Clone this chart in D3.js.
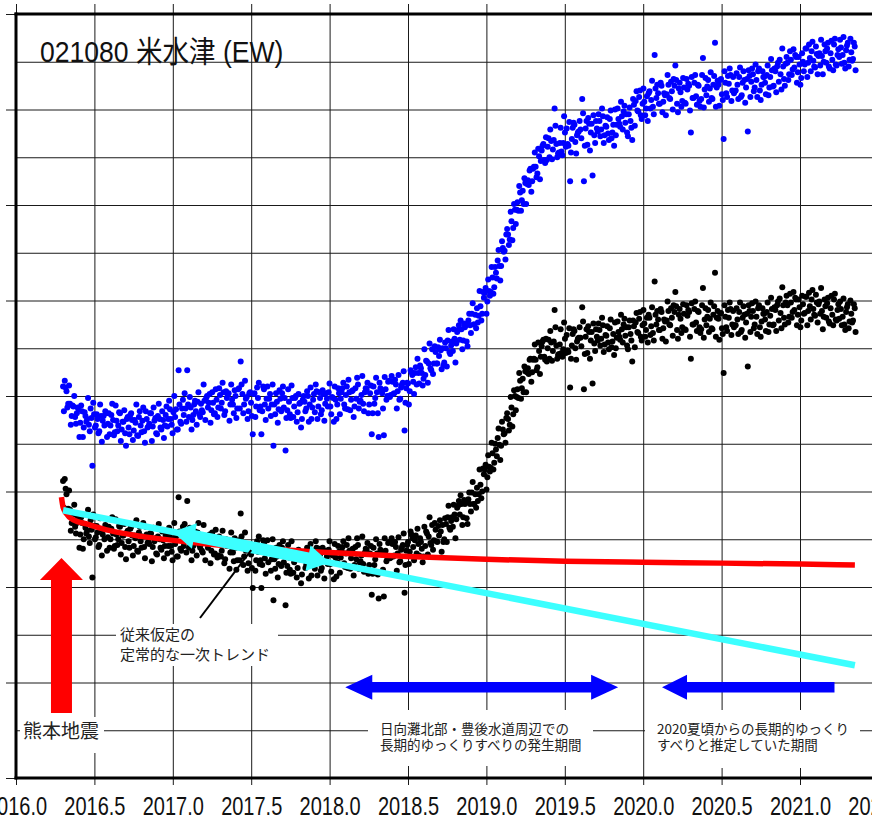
<!DOCTYPE html>
<html><head><meta charset="utf-8">
<script src="https://cdn.jsdelivr.net/npm/d3@7"></script>
<style>body{margin:0;background:#fff}svg{display:block}</style>
</head><body><svg id="c" width="872" height="822"></svg>
<script>
// ---- data ----
const title = "021080 米水津 (EW)";
const startYear = 2016.30;      // first sample of series A
const startYearB = 2016.3055;   // first sample of series B (interleaved)
const stepYears = 0.011;        // sampling interval
// observed EW displacement (mm), black dots
const ewObserved = [
-8.9,-8.7,-10.3,-11.8,-11.9,-13.3,-12.4,-13.7,-13.3,-12.9,
-14.5,-13.3,-15.0,-13.8,-14.1,-14.7,-13.0,-19.0,-13.6,-14.8,
-14.3,-15.6,-14.0,-14.5,-15.0,-13.7,-14.8,-15.9,-13.9,-14.4,
-15.7,-14.5,-15.0,-13.7,-15.4,-14.6,-15.8,-14.3,-15.2,-13.9,
-14.6,-15.7,-14.9,-16.2,-14.3,-15.2,-14.7,-15.8,-13.7,-15.4,
-15.5,-14.4,-15.8,-15.2,-16.5,-14.7,-15.0,-16.1,-15.1,-15.7,
-14.4,-15.7,-14.7,-16.3,-15.0,-15.5,-16.8,-10.6,-16.0,-14.6,
-15.7,-15.0,-11.0,-15.9,-14.9,-16.2,-14.6,-15.3,-14.3,-15.6,
-15.5,-16.4,-15.2,-14.9,-15.9,-14.5,-16.2,-15.4,-16.5,-15.1,
-16.7,-15.4,-16.2,-15.1,-17.1,-15.7,-15.2,-16.4,-15.9,-17.3,
-15.9,-17.2,-15.1,-12.3,-15.7,-16.8,-16.2,-18.3,-15.6,-16.6,
-20.1,-15.8,-17.2,-16.3,-17.6,-20.1,-15.1,-17.0,-16.4,-17.4,
-16.0,-17.1,-21.4,-18.1,-16.8,-17.6,-16.5,-15.9,-17.4,-21.9,
-17.8,-16.9,-18.6,-16.5,-17.4,-16.3,-18.0,-17.1,-19.6,-16.7,
-17.0,-17.7,-16.4,-17.3,-18.8,-16.8,-18.1,-15.9,-17.5,-16.6,
-18.0,-16.3,-17.3,-16.8,-16.1,-17.6,-16.6,-19.2,-16.9,-17.4,
-16.3,-16.9,-15.8,-17.5,-16.5,-18.0,-16.2,-17.0,-16.0,-17.7,
-17.1,-15.6,-17.4,-16.7,-17.6,-16.4,-16.1,-18.6,-16.5,-20.8,
-15.9,-17.1,-16.5,-21.2,-16.1,-16.6,-21.0,-16.2,-16.9,-15.3,
-16.9,-15.5,-16.7,-15.8,-16.5,-17.4,-16.1,-15.6,-20.6,-16.2,
-15.3,-16.3,-14.5,-15.8,-15.1,-16.5,-15.5,-14.9,-16.0,-16.8,
-15.7,-14.4,-14.7,-15.4,-13.5,-15.1,-14.0,-15.3,-14.6,-14.2,
-13.5,-15.0,-13.4,-12.7,-13.8,-13.1,-13.7,-12.4,-12.9,-11.5,
-12.4,-11.3,-12.7,-11.3,-12.8,-10.8,-11.3,-10.1,-11.3,-10.3,
-9.6,-10.3,-9.3,-10.0,-8.2,-7.2,-8.5,-7.4,-7.5,-6.0,
-7.0,-5.6,-4.4,-5.1,-5.2,-3.5,-3.9,-2.3,-2.4,-3.0,
-1.2,-1.9,0.0,-0.1,-0.2,1.6,0.8,0.4,2.6,2.5,
2.3,3.9,2.5,3.9,3.8,3.0,4.7,4.1,5.7,4.1,
6.0,5.0,3.9,5.6,4.7,9.0,5.3,4.3,5.4,4.5,
4.9,6.0,6.4,4.6,0.9,5.3,7.0,5.0,5.7,6.1,
6.1,9.3,0.7,6.2,4.5,6.7,5.8,1.3,5.5,7.0,
5.8,6.9,6.0,7.4,5.4,6.3,5.6,7.1,5.1,6.5,
7.7,6.1,6.7,5.9,7.0,7.5,6.3,5.3,7.2,6.5,
3.6,7.3,7.7,6.7,8.1,6.2,7.4,7.6,6.9,5.6,
8.2,7.3,6.6,12.0,7.5,8.0,6.9,8.8,7.1,7.8,
7.9,8.9,7.4,8.2,9.5,10.9,6.9,8.5,8.1,7.2,
8.6,6.9,8.4,8.8,3.9,7.5,9.1,7.7,8.9,7.2,
7.0,11.3,8.0,7.4,9.0,8.1,7.1,8.5,12.9,8.2,
8.1,8.6,7.1,2.4,8.3,6.8,8.2,9.1,7.5,7.2,
7.4,8.0,8.8,6.7,8.2,8.5,7.7,3.1,8.9,8.3,
8.9,7.5,8.3,9.2,7.2,7.8,8.6,8.0,8.8,6.7,
8.4,9.1,7.5,9.0,9.5,7.9,8.7,11.4,8.2,9.8,
9.5,8.3,9.8,8.8,9.0,10.1,8.5,9.3,7.9,9.6,
8.7,10.4,8.9,9.4,10.1,9.1,8.4,9.8,9.6,8.6,
8.9,8.3,9.4,9.7,7.8,9.2,8.5,10.1,8.0,9.0,
8.1,9.1,8.3,7.5,8.8,9.6,7.8,8.6,7.9,9.2];
const ewObservedB = [
-11.7,-9.7,-12.1,-9.9,-14.1,-12.3,-11.4,-14.4,-12.7,-15.9,
-12.7,-16.0,-13.4,-14.4,-11.9,-15.4,-14.0,-12.4,-15.0,-13.6,
-15.8,-12.8,-16.7,-14.0,-13.5,-16.2,-13.7,-15.0,-12.7,-16.0,
-12.9,-15.6,-13.6,-16.6,-14.6,-13.4,-17.1,-14.1,-15.9,-13.7,
-16.7,-14.6,-13.0,-16.3,-13.7,-15.9,-13.3,-17.0,-14.5,-15.3,
-14.4,-17.3,-13.8,-14.9,-16.6,-13.4,-15.9,-14.2,-17.0,-14.6,
-16.5,-13.8,-15.7,-17.2,-13.3,-14.7,-16.8,-14.2,-16.2,-13.7,
-13.4,-16.4,-14.6,-13.8,-17.2,-15.7,-14.2,-16.7,-13.3,-15.9,
-16.2,-13.5,-17.2,-14.7,-15.4,-17.5,-14.3,-16.6,-14.0,-16.9,
-14.7,-16.8,-14.1,-17.5,-15.0,-15.4,-18.1,-14.3,-16.4,-14.9,
-18.2,-15.2,-17.2,-14.7,-17.7,-14.3,-16.0,-17.5,-15.5,-18.0,
-15.9,-18.3,-15.2,-14.7,-17.2,-17.7,-15.4,-18.6,-15.1,-16.4,
-18.3,-15.0,-17.1,-15.9,-19.0,-15.6,-17.8,-15.2,-16.4,-18.5,
-15.6,-18.2,-15.2,-18.5,-16.5,-19.0,-16.1,-17.0,-18.7,-16.3,
-18.0,-15.9,-19.1,-15.5,-17.6,-16.2,-15.2,-18.8,-16.0,-18.3,
-15.9,-19.1,-16.2,-17.6,-15.2,-18.4,-16.7,-15.5,-18.9,-15.7,
-18.5,-16.2,-15.2,-17.9,-15.6,-14.9,-18.1,-16.1,-18.8,-15.8,
-14.9,-18.1,-17.3,-14.7,-18.4,-16.0,-15.4,-17.7,-15.7,-18.6,
-17.7,-15.0,-18.7,-15.5,-16.3,-18.2,-14.9,-17.3,-15.4,-17.0,
-14.9,-16.8,-15.3,-18.3,-14.8,-17.3,-15.8,-14.4,-17.7,-15.6,
-17.6,-14.2,-14.9,-17.2,-14.6,-13.9,-16.7,-15.3,-17.4,-13.7,
-14.2,-16.6,-12.7,-15.6,-16.1,-13.3,-15.2,-13.6,-13.0,-16.3,
-15.3,-12.8,-15.3,-11.5,-14.0,-12.7,-11.4,-14.9,-11.7,-11.0,
-10.4,-13.5,-10.9,-11.1,-13.4,-10.1,-12.1,-9.0,-11.3,-11.7,
-11.0,-7.7,-10.7,-7.6,-7.7,-9.8,-6.2,-7.9,-4.9,-7.7,
-5.0,-6.3,-3.4,-6.7,-2.7,-4.0,-4.9,-1.8,-3.6,-0.1,
-3.2,0.6,-1.5,0.7,2.4,-0.3,1.8,3.1,0.4,2.9,
3.8,1.5,3.8,5.4,2.7,5.6,2.3,5.2,5.9,3.8,
3.6,5.9,6.8,3.7,5.7,7.2,3.9,4.4,7.0,4.1,
7.7,4.5,4.8,7.1,3.9,6.5,6.8,3.8,6.0,7.2,
5.2,7.8,4.4,7.0,7.3,3.9,6.7,7.6,4.7,6.2,
7.6,5.3,8.2,4.6,6.4,7.3,4.9,8.0,5.7,4.3,
5.0,7.8,6.2,8.5,5.6,8.1,7.2,4.9,7.9,5.8,
7.9,5.1,8.7,6.6,8.8,5.8,9.0,6.2,8.2,8.5,
6.4,9.3,5.8,8.5,8.9,6.9,9.1,6.0,8.0,5.7,
9.9,7.5,9.2,6.3,8.8,9.4,6.0,9.1,6.6,9.6,
7.0,9.5,9.0,6.2,9.7,7.5,9.9,6.8,8.8,6.6,
9.5,6.1,9.2,8.3,6.7,9.8,7.0,9.4,6.2,8.9,
5.9,8.7,6.5,9.5,7.2,9.0,9.8,6.4,8.9,7.4,
9.2,6.5,9.8,6.9,9.4,6.1,8.6,9.5,6.7,9.7,
7.1,9.9,6.5,9.5,6.2,9.2,8.6,6.8,9.8,7.5,
10.3,7.4,9.3,6.8,9.9,10.2,7.1,9.5,7.5,10.5,
7.7,10.7,8.2,10.9,10.3,7.4,10.1,7.2,10.5,8.6,
10.4,7.4,10.8,8.0,11.1,8.5,10.6,7.7,9.9,11.3,
7.0,10.1,8.2,10.3,7.6,10.5,7.4,10.7,7.9,9.6,
9.9,7.4,10.2,6.9,9.3,7.1,10.0,7.7,9.6,6.7];
// corrected EW displacement (mm), blue dots
const ewCorrected = [
1.0,1.6,0.5,-0.8,-0.8,-2.1,-1.1,-2.2,-1.8,-1.4,
-2.8,-1.6,-3.3,-2.1,-2.4,-3.0,-1.3,-7.3,-1.9,-3.1,
-2.4,-3.7,-2.1,-2.6,-3.1,-1.8,-2.9,-4.0,-2.0,-2.5,
-3.8,-2.6,-3.1,-1.8,-3.5,-2.7,-3.9,-2.4,-3.3,-2.0,
-2.5,-3.6,-2.8,-4.1,-2.2,-3.1,-2.6,-3.7,-1.6,-3.3,
-2.9,-1.8,-3.2,-2.6,-3.9,-2.1,-2.4,-3.5,-2.5,-3.1,
-1.1,-2.4,-1.4,-3.0,-1.7,-2.2,-3.5,2.7,-2.7,-1.3,
-2.0,-1.3,2.7,-2.2,-1.2,-2.5,-0.9,-1.6,-0.6,-1.9,
-0.8,-1.7,-0.5,-0.2,-1.2,0.2,-1.5,-0.7,-1.8,-0.4,
-1.2,0.1,-0.7,0.4,-1.6,-0.2,0.3,-0.9,-0.4,-1.8,
0.0,-1.3,0.8,3.6,0.2,-0.9,-0.3,-2.4,0.3,-0.7,
-4.0,0.3,-1.1,-0.2,-1.5,-4.0,1.0,-0.9,-0.3,-1.3,
0.2,-0.9,-5.2,-1.9,-0.6,-1.4,-0.3,0.3,-1.2,-5.7,
-1.5,-0.6,-2.3,-0.2,-1.1,0.0,-1.7,-0.8,-3.3,-0.4,
-0.6,-1.3,0.0,-0.9,-2.4,-0.4,-1.7,0.5,-1.1,-0.2,
-1.5,0.2,-0.8,-0.3,0.4,-1.1,-0.1,-2.7,-0.4,-0.9,
0.3,-0.3,0.8,-0.9,0.1,-1.4,0.4,-0.4,0.6,-1.1,
-0.3,1.2,-0.6,0.1,-0.8,0.4,0.7,-1.8,0.3,-4.0,
1.0,-0.2,0.4,-4.3,0.8,0.3,-4.1,0.7,0.0,1.6,
0.1,1.5,0.3,1.2,0.5,-0.4,0.9,1.4,-3.6,0.8,
1.3,0.5,2.5,1.5,2.4,1.2,2.4,3.2,2.4,1.8,
2.2,3.6,3.4,2.9,4.9,3.4,4.6,3.4,4.2,4.8,
5.0,3.5,5.0,5.8,4.6,5.3,4.7,6.0,5.5,6.9,
5.9,7.0,5.8,7.2,5.7,7.9,7.4,8.6,7.5,8.5,
9.2,8.4,9.4,8.6,10.3,11.3,9.9,11.0,10.9,12.4,
11.4,12.9,14.2,13.6,13.6,15.5,15.2,16.9,16.9,16.4,
18.3,17.6,19.5,19.5,19.4,21.3,20.5,20.1,22.3,22.2,
22.1,23.8,22.5,24.0,24.0,23.3,25.1,24.6,26.2,24.7,
27.1,26.1,25.0,26.7,25.8,30.1,26.4,25.4,26.5,25.6,
26.5,27.6,28.0,26.2,22.5,26.9,28.6,26.6,27.3,27.7,
27.9,31.1,22.5,28.0,26.3,28.5,27.6,23.1,27.3,28.8,
27.7,28.8,27.9,29.3,27.3,28.2,27.5,29.0,27.0,28.4,
30.0,28.4,29.0,28.2,29.3,29.8,28.6,27.6,29.5,28.8,
26.8,30.5,30.9,29.9,31.3,29.4,30.6,30.8,30.1,28.8,
31.9,31.0,30.3,35.7,31.2,31.7,30.6,32.5,30.8,31.5,
31.6,32.6,31.1,31.9,33.2,34.6,30.6,32.2,31.8,30.9,
32.3,30.6,32.1,32.5,27.6,31.2,32.8,31.4,32.6,30.9,
31.1,35.4,32.1,31.5,33.1,32.2,31.2,32.6,37.0,32.3,
32.6,33.1,31.6,26.9,32.8,31.3,32.7,33.6,32.0,31.7,
32.0,32.6,33.4,31.3,32.8,33.1,32.3,27.7,33.5,32.9,
33.7,32.3,33.1,34.0,32.0,32.6,33.4,32.8,33.6,31.5,
33.4,34.1,32.5,34.0,34.5,32.9,33.7,36.4,33.2,34.8,
34.9,33.7,35.2,34.2,34.4,35.5,33.9,34.7,33.3,35.0,
34.7,36.4,34.9,35.4,36.1,35.1,34.4,35.8,35.6,34.6,
35.6,35.0,36.1,36.4,34.5,35.9,35.2,36.8,34.7,35.7,
35.5,36.5,35.7,34.9,36.2,37.0,35.2,36.0,35.3,36.6];
const ewCorrectedB = [
-1.6,0.9,-1.2,1.1,-3.0,-1.0,0.0,-2.9,-1.2,-4.3,
-1.0,-4.3,-1.7,-2.7,-0.2,-3.7,-2.3,-0.7,-3.3,-1.9,
-3.9,-0.9,-4.8,-2.1,-1.6,-4.3,-1.8,-3.1,-0.8,-4.1,
-1.0,-3.7,-1.7,-4.7,-2.7,-1.5,-5.2,-2.2,-4.0,-1.8,
-4.6,-2.5,-0.9,-4.2,-1.6,-3.8,-1.2,-4.9,-2.4,-3.2,
-1.8,-4.7,-1.2,-2.3,-4.0,-0.8,-3.3,-1.6,-4.4,-2.0,
-3.2,-0.5,-2.4,-3.9,0.0,-1.4,-3.5,-0.9,-2.9,-0.4,
0.3,-2.7,-0.9,-0.1,-3.5,-2.0,-0.5,-3.0,0.4,-2.2,
-1.5,1.2,-2.5,0.0,-0.7,-2.8,0.4,-1.9,0.7,-2.2,
0.8,-1.3,1.4,-2.0,0.5,0.1,-2.6,1.2,-0.9,0.6,
-2.3,0.7,-1.3,1.2,-1.8,1.6,-0.1,-1.6,0.4,-2.1,
0.2,-2.2,0.9,1.4,-1.1,-1.6,0.7,-2.5,1.0,-0.3,
-2.1,1.2,-0.9,0.3,-2.8,0.6,-1.6,1.0,-0.2,-2.3,
0.7,-1.9,1.1,-2.2,-0.2,-2.7,0.2,-0.7,-2.4,0.0,
-1.6,0.5,-2.7,0.9,-1.2,0.2,1.2,-2.4,0.4,-1.9,
0.6,-2.6,0.3,-1.1,1.3,-1.9,-0.2,1.0,-2.4,0.8,
-1.9,0.4,1.4,-1.3,1.0,1.7,-1.5,0.5,-2.2,0.8,
1.9,-1.3,-0.5,2.1,-1.6,0.8,1.4,-0.9,1.1,-1.8,
-0.8,1.9,-1.8,1.4,0.6,-1.3,2.0,-0.4,1.5,-0.1,
2.1,0.2,1.7,-1.3,2.2,-0.3,1.2,2.6,-0.7,1.4,
-0.9,2.7,2.2,0.2,3.0,3.9,1.3,2.9,1.1,4.9,
3.7,1.4,5.5,2.7,2.3,5.2,3.4,5.1,5.9,2.8,
3.2,5.6,3.1,6.9,4.4,5.7,7.0,3.5,6.7,7.4,
7.9,4.9,7.6,7.4,5.2,8.6,6.6,9.7,7.5,7.1,
7.7,11.0,7.9,10.9,10.8,8.6,12.2,10.5,13.5,10.7,
13.5,12.3,15.3,12.1,16.2,15.1,14.3,17.5,15.8,19.3,
16.3,20.1,18.0,20.3,22.0,19.4,21.5,22.8,20.1,22.6,
23.6,21.4,23.8,25.5,22.9,25.9,22.7,25.7,26.4,24.4,
24.7,27.0,27.9,24.8,26.8,28.3,25.0,25.5,28.1,25.2,
29.3,26.1,26.4,28.7,25.5,28.1,28.4,25.4,27.6,28.8,
27.0,29.6,26.2,28.8,29.1,25.7,28.5,29.4,26.5,28.0,
29.5,27.2,30.1,26.5,28.3,29.2,26.8,29.9,27.6,26.2,
27.3,30.1,28.5,30.8,27.9,30.4,29.5,27.2,30.2,28.1,
31.1,28.3,31.9,29.8,32.0,29.0,32.2,29.4,31.4,31.7,
30.1,33.0,29.5,32.2,32.6,30.6,32.8,29.7,31.7,29.4,
33.6,31.2,32.9,30.0,32.5,33.1,29.7,32.8,30.3,33.3,
30.7,33.2,32.7,29.9,33.4,31.2,33.6,30.5,32.5,30.3,
33.6,30.2,33.3,32.4,30.8,33.9,31.1,33.5,30.3,33.0,
30.4,33.2,31.0,34.0,31.7,33.5,34.3,30.9,33.4,31.9,
33.8,31.1,34.4,31.5,34.0,30.7,33.2,34.1,31.3,34.3,
31.9,34.7,31.3,34.3,31.0,34.0,33.4,31.6,34.6,32.3,
35.3,32.4,34.3,31.8,34.9,35.2,32.1,34.5,32.5,35.5,
33.1,36.1,33.6,36.3,35.7,32.8,35.5,32.6,35.9,34.0,
36.4,33.4,36.8,34.0,37.1,34.5,36.6,33.7,35.9,37.3,
33.7,36.8,34.9,37.0,34.3,37.2,34.1,37.4,34.6,36.3,
37.3,34.8,37.6,34.3,36.7,34.5,37.4,35.1,37.0,34.1];
// post-seismic (logarithmic) fit, red curve
const postT = [2016.29,2016.30,2016.32,2016.37,2016.45,2016.6,2016.8,2017.1,2017.5,2018.0,2018.5,2019.0,2019.5,2020.0,2020.5,2021.0,2021.35];
const postV = [-10.6,-11.6,-12.3,-13.0,-13.4,-14.1,-14.7,-15.3,-15.9,-16.4,-16.8,-17.1,-17.3,-17.4,-17.5,-17.6,-17.7];
// conventional steady linear trend, cyan line
const trendT = [2016.30, 2021.35];
const trendV = [-11.97, -28.2];
// axes
const xTicks = [2016.0,2016.5,2017.0,2017.5,2018.0,2018.5,2019.0,2019.5,2020.0,2020.5,2021.0,2021.5];
const xTickLabels = ["2016.0","2016.5","2017.0","2017.5","2018.0","2018.5","2019.0","2019.5","2020.0","2020.5","2021.0","2021.5"];
const yMajor = [-40,-30,-20,-10,0,10,20,30,40];
const yMinor = [-35,-25,-15,-5,5,15,25,35];
// annotation periods (years)
const quakeTime = 2016.29;
const trendArrowSpan = [2017.0, 2018.0];
const ssePeriod = [2018.10, 2019.84];
const sse2020Period = [2020.12, 2021.22];

// ---- chart ----
const svg = d3.select("#c");
svg.append("rect").attr("width",872).attr("height",822).attr("fill","#fff");
const x = d3.scaleLinear().domain([2016.0, 2021.5]).range([16, 878.4]);
const y = d3.scaleLinear().domain([-40, 40]).range([778, 14]);
const FRAME_R = x(2021.5);

// vertical grid with ticks above/below frame + labels
const axisY = y(-40) + 7;
svg.append("g").attr("transform",`translate(0,${axisY})`)
  .call(d3.axisBottom(x).tickValues(xTicks).tickSize(-(axisY-4)).tickPadding(12)
        .tickFormat((d,i)=>xTickLabels[i]))
  .call(g=>g.select(".domain").remove())
  .call(g=>g.selectAll("line").attr("stroke","#1a1a1a"))
  .call(g=>g.selectAll("text").attr("font-family","'Liberation Sans',Arial,sans-serif")
        .attr("font-size",25).attr("fill","#111").attr("transform","scale(0.8,1)"));
// horizontal grid
svg.append("g").attr("transform","translate(6,0)")
  .call(d3.axisLeft(y).tickValues(yMajor).tickSize(-(FRAME_R-6)).tickFormat(""))
  .call(g=>g.select(".domain").remove())
  .call(g=>g.selectAll("line").attr("stroke","#1a1a1a"));
svg.append("g").attr("transform",`translate(${x(2016)},0)`)
  .call(d3.axisLeft(y).tickValues(yMinor).tickSize(-(FRAME_R-x(2016))).tickFormat(""))
  .call(g=>g.select(".domain").remove())
  .call(g=>g.selectAll("line").attr("stroke","#1a1a1a"));

// dots
function dots(vals, t0, color){
  svg.append("g").selectAll("circle").data(vals).join("circle")
    .attr("cx",(d,i)=>x(t0+i*stepYears)).attr("cy",d=>y(d)).attr("r",3).attr("fill",color);
}
dots(ewCorrected, startYear, "#0000ff");
dots(ewCorrectedB, startYearB, "#0000ff");
dots(ewObserved, startYear, "#000");
dots(ewObservedB, startYearB, "#000");

// red post-seismic curve
svg.append("path").datum(postT.map((t,i)=>[t,postV[i]]))
  .attr("d", d3.line().x(d=>x(d[0])).y(d=>y(d[1])).curve(d3.curveMonotoneX))
  .attr("fill","none").attr("stroke","#ff0000").attr("stroke-width",5.5);

// cyan trend
const trendAt = t => trendV[0] + (trendV[1]-trendV[0])*(t-trendT[0])/(trendT[1]-trendT[0]);
svg.append("line").attr("x1",x(trendT[0])).attr("y1",y(trendV[0])).attr("x2",x(trendT[1])).attr("y2",y(trendV[1]))
  .attr("stroke","#3cffff").attr("stroke-width",6.5);

// arrow polygon helper
function arrowPts(p1, p2, L, H, S, headStart=true, headEnd=true){
  const dx=p2[0]-p1[0], dy=p2[1]-p1[1], len=Math.hypot(dx,dy);
  const u=[dx/len,dy/len], n=[-u[1],u[0]];
  const P=(p,a,b)=>[p[0]+u[0]*a+n[0]*b, p[1]+u[1]*a+n[1]*b];
  const pts=[];
  if(headStart){ pts.push(P(p1,0,0), P(p1,L,H), P(p1,L,S)); } else { pts.push(P(p1,0,S)); }
  if(headEnd){ pts.push(P(p2,-L,S), P(p2,-L,H), P(p2,0,0), P(p2,-L,-H), P(p2,-L,-S)); } else { pts.push(P(p2,0,S), P(p2,0,-S)); }
  if(headStart){ pts.push(P(p1,L,-S), P(p1,L,-H)); } else { pts.push(P(p1,0,-S)); }
  return pts;
}
const poly = pts => "M"+pts.map(p=>p.join(",")).join("L")+"Z";

// cyan arrow along trend
svg.append("path").attr("d", poly(arrowPts(
  [x(trendArrowSpan[0]), y(trendAt(trendArrowSpan[0]))],
  [x(trendArrowSpan[1]), y(trendAt(trendArrowSpan[1]))], 22, 13, 6)))
  .attr("fill","#3cffff");

// pointer line
svg.append("line").attr("x1",200).attr("y1",618).attr("x2",x(2017.5)).attr("y2",y(trendAt(2017.5))+3)
  .attr("stroke","#000").attr("stroke-width",2);

// red earthquake arrow
svg.append("path").attr("d", poly(arrowPts([x(quakeTime), y(-33.2)], [x(quakeTime), y(-16.96)], 22, 21.5, 10.5, false, true)))
  .attr("fill","#ff0000");

// blue period arrows
svg.append("path").attr("d", poly(arrowPts([x(ssePeriod[0]), y(-30.5)], [x(ssePeriod[1]), y(-30.5)], 27, 12.5, 5.3)))
  .attr("fill","#0000ff");
svg.append("path").attr("d", poly(arrowPts([x(sse2020Period[1]), y(-30.5)], [x(sse2020Period[0]), y(-30.5)], 25, 12.5, 5.3, false, true)))
  .attr("fill","#0000ff");

// labels with white boxes
const cjk = "'Noto Sans CJK JP','Noto Sans',sans-serif";
function label(box, lines, fs){
  svg.append("rect").attr("x",box[0]).attr("y",box[1]).attr("width",box[2]).attr("height",box[3]).attr("fill","#fff");
  lines.forEach(l=>svg.append("text").attr("x",l[0]).attr("y",l[1]).text(l[2])
    .attr("font-family",cjk).attr("font-size",fs).attr("fill","#222"));
}
label([116,624,162,42], [[120,640,"従来仮定の"],[120,660,"定常的な一次トレンド"]], 15);
label([20,717,84,36], [[23,738,"熊本地震"]], 19);
label([368,710,225,56], [[380,734,"日向灘北部・豊後水道周辺での"],[380,750,"長期的ゆっくりすべりの発生期間"]], 13.5);
label([645,710,215,58], [[657,734,"2020夏頃からの長期的ゆっくり"],[657,750,"すべりと推定していた期間"]], 13.5);

// title (slightly condensed, like the original plot lettering)
svg.append("text").attr("x",40/0.885).attr("y",62).text(title)
  .attr("transform","scale(0.885,1)")
  .attr("font-family","'Liberation Sans','Noto Sans CJK JP',sans-serif").attr("font-size",30).attr("fill","#111");

// frame
const fr = svg.append("g").attr("stroke","#000").attr("stroke-width",3).attr("stroke-linecap","square");
fr.append("line").attr("x1",x(2016)).attr("y1",y(40)).attr("x2",x(2016)).attr("y2",y(-40));
fr.append("line").attr("x1",x(2016)).attr("y1",y(40)).attr("x2",FRAME_R).attr("y2",y(40));
fr.append("line").attr("x1",x(2016)).attr("y1",y(-40)).attr("x2",FRAME_R).attr("y2",y(-40));
fr.append("line").attr("x1",FRAME_R).attr("y1",y(40)).attr("x2",FRAME_R).attr("y2",y(-40));
</script></body></html>
